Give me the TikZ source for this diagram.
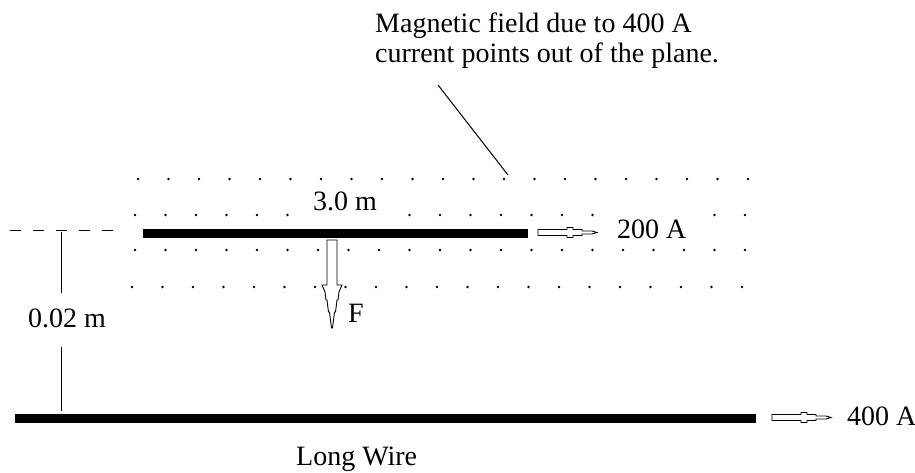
\documentclass[tikz,border=0pt]{standalone}
\usepackage{fontspec}
\setmainfont{Liberation Serif}
\begin{document}
\begin{tikzpicture}[x=1pt,y=-1pt,
  lbl/.style={inner sep=0pt,anchor=base west,font=\fontsize{28}{30}\selectfont},
  wire/.style={line width=9pt,line cap=butt},
  thin/.style={line width=1pt},
  hollow/.style={draw=black,fill=white,line width=0.9pt,line join=miter},
  pics/harrow/.style={code={
    \draw[hollow] (0,-3)--(29,-3)--(29,-5)--(35,-5)--(35,-3)--(44,-3)--(44,-1.5)--(54,-1.5)--(59,0)--(54,1.5)--(44,1.5)--(44,3)--(35,3)--(35,5)--(29,5)--(29,3)--(0,3)--cycle;}}]
\useasboundingbox (0,0) rectangle (915,473);
% field dots
\foreach \i in {0,...,20} \fill (138+30.5*\i,179) circle (1.3pt);
\foreach \i in {0,1,2,3,4,5,9,10,11,12,13,14,15,19,20} \fill (135+30.5*\i,215) circle (1.3pt);
\foreach \i in {0,...,20} \fill (135+30.5*\i,250) circle (1.3pt);
\foreach \i in {0,...,20} \fill (132+30.5*\i,287) circle (1.3pt);
% annotation
\node[lbl] (note1) at (375,33) {Magnetic field due to 400 A};
\node[lbl] (note2) at (375,63) {current points out of the plane.};
\coordinate (leadA) at (438,85);
\coordinate (leadB) at (508,175);
\draw[thin] (leadA) -- (leadB);
% short wire
\coordinate (w1a) at (143,233.5);
\coordinate (w1b) at (528,233.5);
\draw[wire] (w1a) -- (w1b);
\node[lbl] (len) at (313,211) {3.0 m};
\pic at (538,232.5) {harrow};
\node[lbl] (i1) at (617,238) {200 A};
% force arrow
\draw[hollow] (327,240)--(337,240)--(337,285)--(342,285)--(339,292)--(338,300)--(337,300)--(335.5,312)--(334.5,312)--(332.5,328)--(331.5,328)--(329.5,312)--(328.5,312)--(327,300)--(326,300)--(325,292)--(322,285)--(327,285)--cycle;
\node[lbl] (F) at (348,322) {F};
% separation
\coordinate (da) at (10,230);
\coordinate (db) at (117,230);
\draw[thin,dash pattern=on 11pt off 12pt] (da) -- (db);
\node[lbl] (sep) at (28,327) {0.02 m};
\coordinate (va) at (61,232);
\coordinate (vb) at (61,293);
\coordinate (vc) at (61,347);
\coordinate (vd) at (61,411);
\draw[thin] (va) -- (vb);
\draw[thin] (vc) -- (vd);
% long wire
\coordinate (w2a) at (15,418.5);
\coordinate (w2b) at (756,418.5);
\draw[wire] (w2a) -- (w2b);
\pic at (772,417.5) {harrow};
\node[lbl] (i2) at (847,425) {400 A};
\node[lbl] (lw) at (296,465) {Long Wire};
\end{tikzpicture}
\end{document}
